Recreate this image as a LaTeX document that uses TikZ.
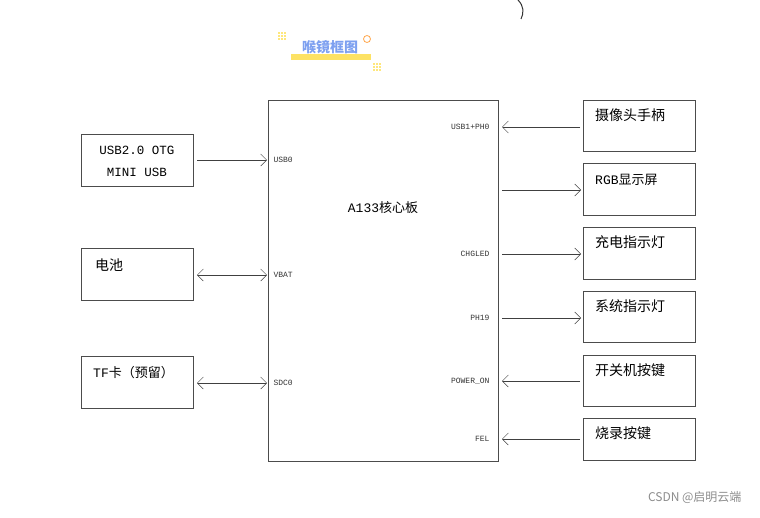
\documentclass[tikz,border=0pt]{standalone}
\usepackage{fontspec}
\setmainfont{Liberation Mono}
\newfontfamily\cjk{Noto Sans CJK SC}
\usetikzlibrary{arrows.meta}
\definecolor{ttl}{RGB}{125,160,240}
\begin{document}
\begin{tikzpicture}[x=1pt,y=-1pt,
  blk/.style={draw=black!70,line width=0.7pt},
  conn/.style={draw=black!75,line width=0.5pt},
  tipr/.style={-{Straight Barb[length=6pt,width=12pt]}},
  tipb/.style={{Straight Barb[length=6pt,width=12pt]}-{Straight Barb[length=6pt,width=12pt]}},
  pin/.style={font=\fontsize{8}{9}\selectfont,text=black!80},
  bt/.style={font=\fontsize{14}{16}\selectfont\cjk,anchor=west,inner sep=0pt}]
\useasboundingbox (0,0) rectangle (760,517);
\draw[blk] (268,100) rectangle (498,461);
\node[font=\fontsize{13}{14}\selectfont] (core) at (383,208) {A133{\cjk 核心板}};
% left boxes
\draw[blk] (81,134) rectangle (193,186);
\node[align=center,font=\fontsize{12.5}{22}\selectfont] (usb) at (137,161) {USB2.0 OTG\\MINI USB};
\draw[blk] (81,248) rectangle (193,300);
\node[bt] (bat) at (95,265) {电池};
\draw[blk] (81,356) rectangle (193,408);
\node[font=\fontsize{13}{14}\selectfont,anchor=west,inner sep=0pt] (tf) at (93,373) {TF{\cjk 卡（预留）}};
% right boxes
\foreach \y/\h/\t/\n in {100/51/摄像头手柄/r1,227/52/充电指示灯/r3,291/51/系统指示灯/r4,355/51/开关机按键/r5,418/42/烧录按键/r6}{
  \draw[blk] (583,\y) rectangle (695,\y+\h);
  \node[bt] (\n) at (595,\y+15) {\t};
}
\draw[blk] (583,163) rectangle (695,215);
\node[font=\fontsize{13}{14}\selectfont,anchor=west,inner sep=0pt] (r2) at (595,180) {RGB{\cjk 显示屏}};
% pin labels
\node[pin,anchor=west] (p1) at (270,160) {USB0};
\node[pin,anchor=west] (p2) at (270,275) {VBAT};
\node[pin,anchor=west] (p3) at (270,383) {SDC0};
\node[pin,anchor=east] (q1) at (493,127) {USB1+PH0};
\node[pin,anchor=east] (q3) at (493,254) {CHGLED};
\node[pin,anchor=east] (q4) at (493,318) {PH19};
\node[pin,anchor=east] (q5) at (493,381) {POWER\_ON};
\node[pin,anchor=east] (q6) at (493,439) {FEL};
% connectors
\draw[conn,tipr] (197,160) -- (267,160);
\draw[conn,tipb] (197,275) -- (267,275);
\draw[conn,tipb] (197,383) -- (267,383);
\draw[conn,tipr] (580,127) -- (502,127);
\draw[conn,tipr] (502,190) -- (581,190);
\draw[conn,tipr] (502,254) -- (581,254);
\draw[conn,tipr] (502,318) -- (581,318);
\draw[conn,tipr] (580,381) -- (502,381);
\draw[conn,tipr] (580,439) -- (502,439);
% title
\fill[yellow!70!orange!60] (291,54) rectangle (371,60);
\node[font=\fontsize{14}{15}\selectfont\cjk\bfseries,text=ttl] (title) at (330,47) {喉镜框图};
\draw[orange!70,line width=0.8pt] (367,39) circle (3.5);
\foreach \i in {0,1,2}{\foreach \j in {0,1,2}{
  \fill[yellow!70!orange!50] (278+3*\i,32+3*\j) rectangle ++(1.6,1.6);
  \fill[yellow!70!orange!50] (373+3*\i,63+3*\j) rectangle ++(1.6,1.6);}}
\draw[black!80,line width=1pt] (518,0) .. controls (524,6) and (524,13) .. (521,19);
\node[font=\fontsize{12}{13}\selectfont\cjk,text=black!45,anchor=east] (wm) at (745,497) {CSDN @启明云端};
\end{tikzpicture}
\end{document}
